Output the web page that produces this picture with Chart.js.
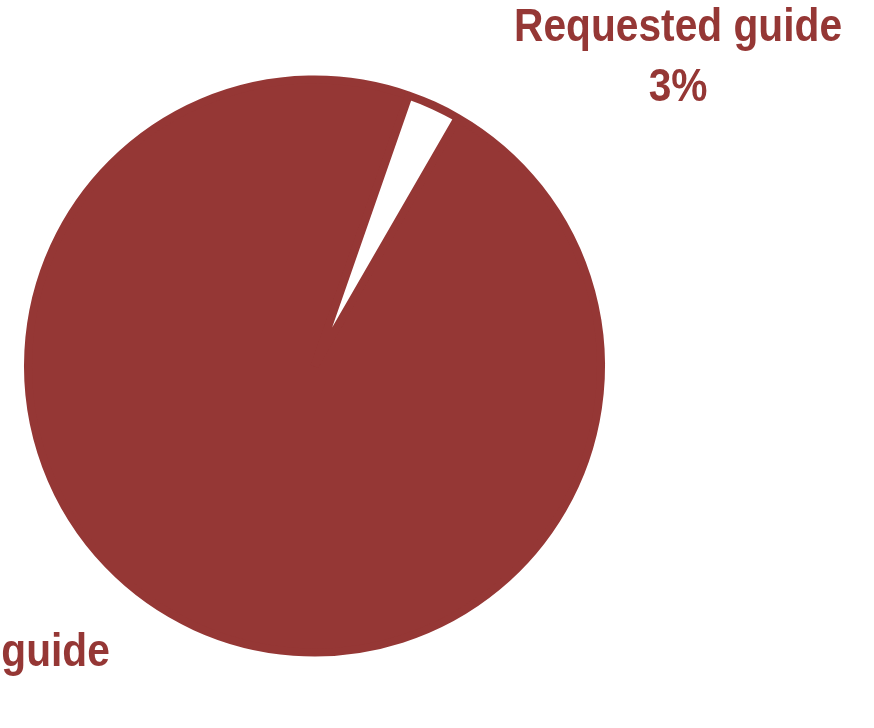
<!DOCTYPE html>
<html>
<head>
<meta charset="utf-8">
<script src="https://cdn.jsdelivr.net/npm/chart.js@4/dist/chart.umd.min.js"></script>
<style>
  html, body { margin: 0; padding: 0; background: #ffffff; }
  #wrap { width: 874px; height: 728px; }
</style>
</head>
<body>
<div id="wrap"><canvas id="c" width="874" height="728"></canvas></div>
<script>
// ---- data ----
const categories = ["Did not request guide", "Requested guide"];
const values = [97, 3];
const percentLabels = ["97%", "3%"];

// ---- style ----
const RED = "#953735";
const sliceFill = [RED, "#ffffff"];
const FONT_SIZE = 46;
const FONT = "bold " + FONT_SIZE + "px 'Liberation Sans', Arial, sans-serif";
const NARROW = 0.885;       // horizontal squeeze to imitate a narrow face
const CAP = 0.716;          // cap-height ratio of the face
// label placement relative to each slice: extra angle (deg) past the slice bisector,
// distance in outer radii, and how the block is anchored
const labelPlacement = [
  { dAngle: 8.5, dist: 1.308, anchor: "right" },
  { dAngle: 24.85, dist: 1.67, anchor: "center" }
];

const labelPlugin = {
  id: "sliceLabels",
  afterDatasetsDraw(chart) {
    const ctx = chart.ctx;
    const meta = chart.getDatasetMeta(0);
    ctx.save();
    ctx.font = FONT;
    ctx.fillStyle = RED;
    ctx.textBaseline = "alphabetic";
    ctx.textAlign = "center";
    const lineH = 60;
    meta.data.forEach((arc, i) => {
      const p = labelPlacement[i];
      const mid = (arc.startAngle + arc.endAngle) / 2 + p.dAngle * Math.PI / 180;
      const r = arc.outerRadius * p.dist;
      let x = arc.x + Math.cos(mid) * r;
      const y = arc.y + Math.sin(mid) * r;
      const lines = [categories[i], percentLabels[i]];
      if (p.anchor === "right") {
        const w = Math.max(...lines.map(t => ctx.measureText(t).width)) * NARROW;
        x -= w / 2;
      }
      const top = y - lineH / 2 * (lines.length - 1);
      lines.forEach((t, k) => {
        ctx.save();
        ctx.translate(x, top + k * lineH + FONT_SIZE * CAP / 2);
        ctx.scale(NARROW, 1);
        ctx.fillText(t, 0, 0);
        ctx.restore();
      });
    });
    ctx.restore();
  }
};

new Chart(document.getElementById("c"), {
  type: "pie",
  data: {
    labels: categories,
    datasets: [{
      data: values,
      backgroundColor: sliceFill,
      borderColor: RED,
      borderWidth: 8
    }]
  },
  options: {
    responsive: false,
    animation: false,
    rotation: 30,
    events: [],
    layout: { padding: { left: 24, top: 75.5, right: 269, bottom: 71.5 } },
    plugins: {
      legend: { display: false },
      tooltip: { enabled: false }
    }
  },
  plugins: [labelPlugin]
});
</script>
</body>
</html>
